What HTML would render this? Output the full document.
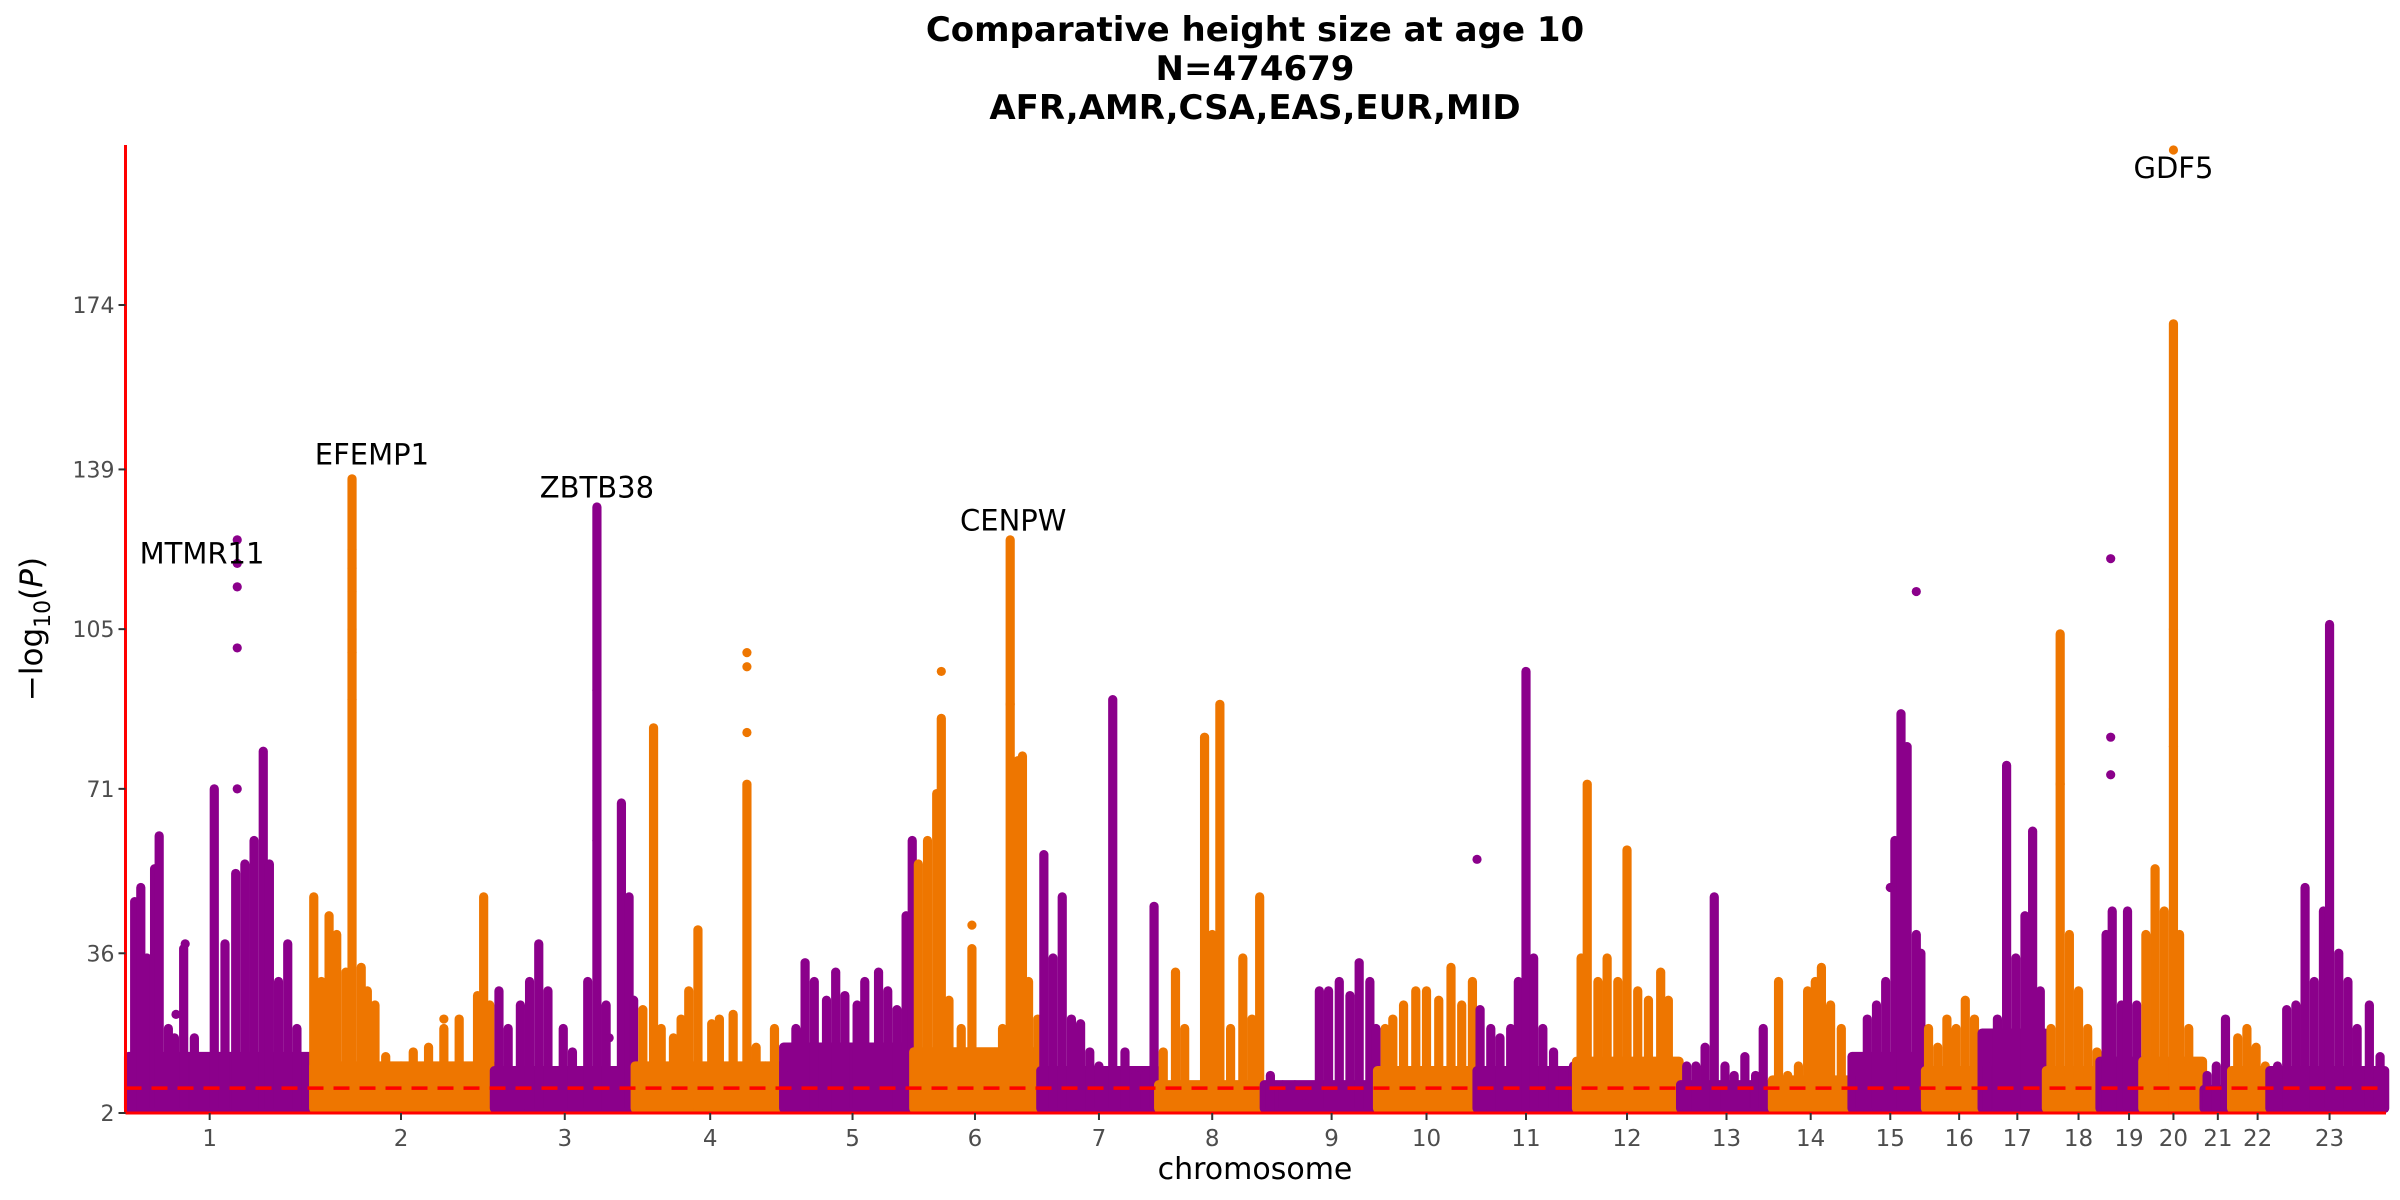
<!DOCTYPE html>
<html><head><meta charset="utf-8">
<style>
html,body{margin:0;padding:0;background:#fff;}
svg{display:block;font-family:"DejaVu Sans","Liberation Sans",sans-serif;}
</style></head>
<body>
<svg id="chart" width="2400" height="1200" viewBox="0 0 2400 1200" xmlns="http://www.w3.org/2000/svg">
<g font-weight="bold" font-size="34" text-anchor="middle" fill="#000">
<text x="1255" y="41">Comparative height size at age 10</text>
<text x="1255" y="80">N=474679</text>
<text x="1255" y="119">AFR,AMR,CSA,EAS,EUR,MID</text>
</g>
<g id="marks"></g>
<g id="axes"></g>
<text x="1255" y="1179" font-size="30" text-anchor="middle" fill="#000">chromosome</text>
<text transform="translate(42,629) rotate(-90)" font-size="31" text-anchor="middle" fill="#000">−log<tspan font-size="22" dy="8">10</tspan><tspan dy="-8">(</tspan><tspan font-style="italic">P</tspan>)</text>
</svg>
<script>
const chromNames=["1","2","3","4","5","6","7","8","9","10","11","12","13","14","15","16","17","18","19","20","21","22","23"];
const chrStart=[84,205,323,415,512,597,680,757,826,900,965,1030,1098,1158,1210,1258,1295,1337,1372,1400,1440,1458,1483];
const chrEnd=[203,322,414,511,596,679,756,825,899,964,1029,1097,1155,1208,1256,1294,1336,1371,1399,1439,1456,1481,1558];
const chrBase=[15,13,12,13,17,16,12,9,9,12,12,14,9,10,15,12,20,12,14,14,8,12,12];
const tickPos=[137,262,369,464,557,637,718,792,870,932,997,1063,1128,1183,1235,1280,1318,1358,1391,1420,1449,1475,1522];
const yTicks=[2,36,71,105,139,174];
const threshold=7.3;
const columns=[
[[88,47],[92,50],[96,35],[101,54],[104,61],[110,20],[114,18],[120,37],[127,18],[140,71],[147,38],[154,53],[160,55],[166,60],[172,79],[176,55],[182,30],[188,38],[194,20]],
[[205,48],[210,30],[215,44],[220,40],[226,32],[230,137],[236,33],[240,28],[245,25],[252,14],[262,12],[270,15],[280,16],[290,20],[300,22],[312,27],[316,48],[320,25]],
[[326,28],[332,20],[340,25],[346,30],[352,38],[358,28],[368,20],[374,15],[384,30],[390,131],[396,25],[406,68],[411,48],[414,26]],
[[420,24],[427,84],[432,20],[440,18],[445,22],[450,28],[456,41],[465,21],[470,22],[479,23],[488,72],[494,16],[500,12],[506,20]],
[[516,10],[520,20],[526,34],[532,30],[540,26],[546,32],[552,27],[560,25],[565,30],[574,32],[580,28],[586,24],[592,44],[596,60]],
[[600,55],[606,60],[612,70],[615,86],[620,26],[628,20],[635,37],[642,14],[650,15],[655,20],[660,124],[665,77],[668,78],[672,30],[678,22]],
[[682,57],[688,35],[694,48],[700,22],[706,21],[712,15],[718,12],[727,90],[735,15],[742,10],[748,10],[754,46]],
[[760,15],[768,32],[774,20],[787,82],[792,40],[797,89],[804,20],[812,35],[818,22],[823,48]],
[[830,10],[838,8],[846,8],[852,4],[862,28],[868,28],[875,30],[882,27],[888,34],[895,30],[899,20]],
[[905,20],[910,22],[917,25],[925,28],[932,28],[940,26],[948,33],[955,25],[962,30]],
[[967,24],[974,20],[980,18],[987,20],[992,30],[997,96],[1002,35],[1008,20],[1015,15],[1022,10],[1028,12]],
[[1033,35],[1037,72],[1044,30],[1050,35],[1057,30],[1063,58],[1070,28],[1077,26],[1085,32],[1090,26]],
[[1102,12],[1108,12],[1114,16],[1120,48],[1127,12],[1133,10],[1140,14],[1147,10],[1152,20]],
[[1162,30],[1168,10],[1175,12],[1181,28],[1186,30],[1190,33],[1196,25],[1203,20]],
[[1215,10],[1220,22],[1226,25],[1232,30],[1238,60],[1242,87],[1246,80],[1252,40],[1255,36]],
[[1260,20],[1266,16],[1272,22],[1278,20],[1284,26],[1290,22]],
[[1298,12],[1305,22],[1311,76],[1317,35],[1323,44],[1328,62],[1333,28]],
[[1340,20],[1346,104],[1352,40],[1358,28],[1364,20],[1370,15]],
[[1376,40],[1380,45],[1386,25],[1390,45],[1396,25]],
[[1402,40],[1408,54],[1414,45],[1420,170],[1424,40],[1430,20],[1436,12]],
[[1442,10],[1448,12],[1454,22]],
[[1462,18],[1468,20],[1474,16],[1480,12]],
[[1488,12],[1494,24],[1500,25],[1506,50],[1512,30],[1518,45],[1522,106],[1528,36],[1534,30],[1540,20],[1548,25],[1555,14]]
];
const singlePoints=[[0,155,124],[0,155,119],[0,155,114],[0,155,101],[0,155,71],[0,115,23],[0,121,38],
[1,230,122],[1,230,118],[1,230,113],[1,230,105],[1,230,100],[1,230,90],[1,290,22],
[2,390,92],[2,390,60],[2,398,18],[3,488,83],[3,488,97],[3,488,100],
[5,660,89],[5,635,42],[5,615,96],[10,965,56],[14,1235,50],[14,1252,113],
[17,1346,72],[18,1379,120],[18,1379,82],[18,1379,74],
[19,1420,207],[19,1420,105],[19,1420,88],[19,1420,80]];
const geneLabels=["MTMR11","EFEMP1","ZBTB38","CENPW","GDF5"];
const genePos=[132,243,390,662,1420];
const geneVal=[119,140,133,126,201];

const NS="http://www.w3.org/2000/svg";
const X0=125.5,Y0=1113,YTOP=145;
function xs(p){return X0+(p-82)*1.5306;}
function ys(v){return Y0-(v-2)*(Y0-305)/172;}
const colors=["#8B008B","#EE7600"];
const marks=document.getElementById('marks');
const axes=document.getElementById('axes');
function mk(tag,attrs,parent){const e=document.createElementNS(NS,tag);for(const k in attrs)e.setAttribute(k,attrs[k]);parent.appendChild(e);return e;}
const R=4.6;
chromNames.forEach((c,i)=>{
  const col=colors[i%2];
  const g=mk('g',{fill:col,stroke:col},marks);
  
  
  const base=mk('rect',{x:xs(chrStart[i])-R,y:ys(chrBase[i]),width:xs(chrEnd[i])-xs(chrStart[i])+2*R,height:Y0-ys(chrBase[i]),rx:R,stroke:'none'},g);
  
  
  columns[i].forEach(([p,v])=>{
    const l=mk('line',{x1:xs(p),x2:xs(p),y1:Y0-R,y2:ys(v),'stroke-width':2*R,'stroke-linecap':'round'},g);
    
    
  });
});
singlePoints.forEach(([ci,p,v])=>{
  const c=mk('circle',{cx:xs(p),cy:ys(v),r:R,fill:colors[ci%2]},marks);
  
  
});
const th=mk('line',{x1:X0,x2:2385,y1:ys(threshold),y2:ys(threshold),stroke:'#FF0000','stroke-width':3.5,'stroke-dasharray':'16 10'},axes);


const ya=mk('line',{x1:X0,x2:X0,y1:YTOP,y2:Y0+1,stroke:'#FF0000','stroke-width':3},axes);


const xa=mk('line',{x1:X0,x2:2386,y1:Y0,y2:Y0,stroke:'#FF0000','stroke-width':3},axes);


yTicks.forEach(v=>{
  const t=mk('line',{x1:X0-7,x2:X0,y1:ys(v),y2:ys(v),stroke:'#333','stroke-width':2},axes);
  
  
  const tx=mk('text',{x:X0-11,y:ys(v)+8,'text-anchor':'end','font-size':22,fill:'#4D4D4D'},axes);
  tx.textContent=v;
  
  
});
tickPos.forEach((p,i)=>{
  const t=mk('line',{x1:xs(p),x2:xs(p),y1:Y0,y2:Y0+7,stroke:'#333','stroke-width':2},axes);
  
  
  const tx=mk('text',{x:xs(p),y:Y0+33,'text-anchor':'middle','font-size':23,fill:'#4D4D4D'},axes);
  tx.textContent=chromNames[i];
  
  
});
geneLabels.forEach((g,i)=>{
  const tx=mk('text',{x:xs(genePos[i]),y:ys(geneVal[i]),'text-anchor':'middle','font-size':29,fill:'#000'},axes);
  tx.textContent=g;
  
  
});
</script>
</body></html>
